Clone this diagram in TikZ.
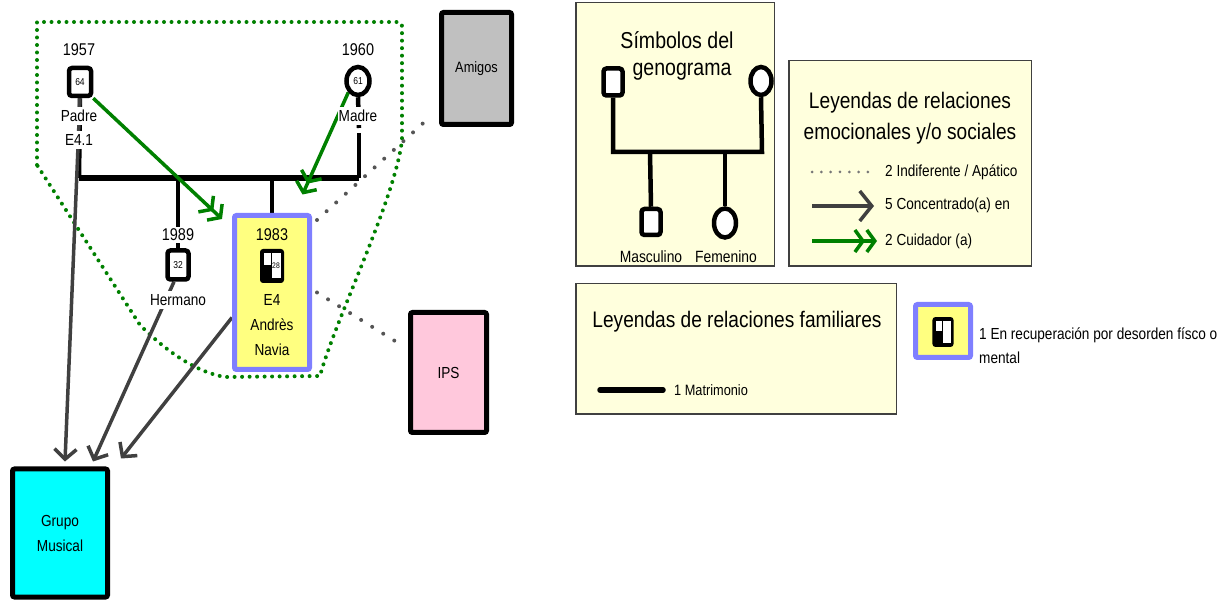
\documentclass[tikz,border=0pt]{standalone}
\usepackage{fontspec}
\setmainfont{Liberation Sans}[FakeStretch=0.85]
\usetikzlibrary{arrows.meta,shapes.geometric}
\pgfdeclarelayer{back}
\pgfdeclarelayer{bg}
\pgfsetlayers{back,bg,main}
\definecolor{gdk}{HTML}{008000}
\definecolor{garr}{HTML}{404040}
\definecolor{gdot}{HTML}{555555}
\definecolor{lgy}{HTML}{FFFFDD}
\definecolor{eyel}{HTML}{FFFF80}
\definecolor{eblu}{HTML}{7F7FFF}
\definecolor{amig}{HTML}{C0C0C0}
\definecolor{ipsc}{HTML}{FFC8DC}
\definecolor{grpc}{HTML}{00FFFF}
\tikzset{
  recsym/.pic={
    \fill[black, rounded corners=3pt] (-12,-17) rectangle (12,17);
    \fill[white] (-8.5,-13) rectangle (-1.5,-1);
    \fill[white] (0,-13) rectangle (9,12);
  },
  lab/.style={fill=white, inner xsep=1pt, inner ysep=3.5pt, font=\fontsize{16}{19}\selectfont},
  yr/.style={fill=white, inner sep=1.5pt, font=\fontsize{17}{20}\selectfont},
  msq/.style={draw, line width=4.5pt, rounded corners=3pt, fill=white, minimum width=22pt, minimum height=28pt, inner sep=0pt, font=\fontsize{10}{11}\selectfont},
  fcirc/.style={ellipse, draw, line width=4.5pt, fill=white, minimum width=23pt, minimum height=28pt, inner sep=0pt, font=\fontsize{10}{11}\selectfont},
  bigbox/.style={draw, line width=5pt, rounded corners=2pt, inner sep=0pt, font=\fontsize{16}{25}\selectfont, align=center},
  ebox/.style={draw=eblu, line width=5pt, fill=eyel, rounded corners=2pt, inner sep=0pt},
  legbox/.style={draw=black!75, line width=1.5pt, fill=lgy, inner sep=0pt},
  sm/.style={inner sep=0pt, font=\fontsize{16}{19}\selectfont},
  kin/.style={line width=4.5pt},
  mar/.style={line width=5.5pt},
  grayarr/.style={draw=garr, line width=3.5pt, -{Straight Barb[length=10pt,width=22pt]}},
  carer/.style={draw=gdk, line width=3.5pt, -{Straight Barb[length=8pt,width=22pt]Straight Barb[length=8pt,width=22pt]}},
  indif/.style={draw=gdot, line width=4pt, line cap=round, dash pattern=on 0pt off 13pt},
  ldots/.style={draw=gdot!80, line width=3pt, line cap=round, dash pattern=on 0pt off 9.33pt},
  bound/.style={draw=gdk, line width=4pt, line cap=round, dash pattern=on 0pt off 7.5pt},
}
\begin{document}
\begin{tikzpicture}[x=1pt,y=-1pt]
\useasboundingbox (0,0) rectangle (1227,601);
% ---------- family ----------
\node[yr] (y57) at (79,50) {1957};
\node[msq] (padre) at (80,82) {64};
\node[lab] (padret) at (79,116) {Padre};
\node[lab] (e41) at (79,140) {E4.1};
\node[yr] (y60) at (358,50) {1960};
\node[fcirc] (madre) at (358,81) {61};
\node[lab] (madret) at (358,116) {Madre};
\coordinate (mL) at (79,178);
\coordinate (mR) at (359,178);
\coordinate (mT1) at (359,128);
\coordinate (mT2) at (359,133);
\coordinate (cH) at (178,178);
\coordinate (cE) at (272,178);
\node[yr] (y89) at (178,235) {1989};
\node[msq, minimum height=29pt, minimum width=21pt] (herm) at (178,265) {32};
\node[lab] (hermt) at (178,300) {Hermano};
\node[ebox, minimum width=75pt, minimum height=154pt] (e4) at (272,292.5) {};
\node[inner sep=0pt, font=\fontsize{17}{20}\selectfont] (y83) at (272,235) {1983};
\pic at (272,266) {recsym};
\node[inner sep=0pt, font=\fontsize{8}{9}\selectfont] (n28) at (276,266) {28};
\node[inner sep=0pt, font=\fontsize{16}{25}\selectfont, align=center] (e4t) at (272,325) {E4\\Andrès\\Navia};
\node[bigbox, fill=amig, minimum width=70pt, minimum height=112pt, font=\fontsize{15}{18}\selectfont] (amigos) at (476.5,68.5) {Amigos};
\node[bigbox, fill=ipsc, minimum width=76pt, minimum height=120pt] (ips) at (448.5,372.5) {IPS};
\node[bigbox, fill=grpc, minimum width=95pt, minimum height=128pt] (grupo) at (60,533) {Grupo\\Musical};
\begin{pgfonlayer}{bg}
\draw[bound] (37,165) -- (37,22) -- (394,22) .. controls (402,22) .. (402,30) -- (402,140)
   .. controls (395,200) and (335,320) .. (320,376) -- (225,377)
   .. controls (195,372) and (165,350) .. (140,325) -- cycle;
\draw[mar] (mL) -- (mR);
\draw[kin] (padre.south) -- (mL);
\draw[kin] (madre.south) -- (mT1);
\draw[kin] (mT2) -- (mR);
\draw[kin] (cH) -- (herm.north);
\draw[kin] (cE) -- (e4.north);
\draw[grayarr] (padre.south) -- ([xshift=5pt,yshift=5pt]grupo.north);
\draw[grayarr] ([xshift=-4pt]herm.south) -- ([xshift=33pt,yshift=5pt]grupo.north);
\draw[grayarr] ([yshift=-25pt]e4.west) -- ([xshift=61pt,yshift=8pt]grupo.north);
\draw[indif] ([xshift=5pt,yshift=-7pt]e4.north east) -- ([xshift=-8pt,yshift=11pt]amigos.south west);
\draw[indif] ([xshift=5pt]e4.east) -- ([xshift=-5pt,yshift=26.5pt]ips.west);
\draw[carer] (padre.south east) -- ([xshift=-10pt,yshift=-6pt]e4.north west);
\draw[carer] (madre.south west) -- ([xshift=-9.5pt,yshift=18.5pt]e4.north east);
\end{pgfonlayer}
% ---------- legend boxes ----------
\begin{pgfonlayer}{back}
\node[legbox, minimum width=198.5pt, minimum height=263.5pt] (lsym) at (675,134.5) {};
\node[legbox, minimum width=242.5pt, minimum height=205.5pt] (lemo) at (910,163.5) {};
\node[legbox, minimum width=320.5pt, minimum height=130.5pt] (lfam) at (736,349) {};
\end{pgfonlayer}
% ---------- legend: symbols ----------
\node[inner sep=0pt, font=\fontsize{23}{28}\selectfont] (lsymt1) at (677,40) {Símbolos del};
\node[inner sep=0pt, font=\fontsize{23}{28}\selectfont] (lsymt2) at (682,72) {genograma};
\node[msq, minimum width=19pt, minimum height=27pt] (lsq) at (613,82) {};
\node[fcirc, minimum width=21pt, minimum height=28pt] (lci) at (761,81) {};
\coordinate (lj1) at (613,152);
\coordinate (lj2) at (762,152);
\coordinate (lc1) at (650,152);
\coordinate (lc2) at (725,152);
\node[msq, minimum width=19pt, minimum height=26pt] (lsq2) at (651,222) {};
\node[fcirc, minimum width=22pt, minimum height=29pt] (lci2) at (725,223) {};
\node[sm, font=\fontsize{16.3}{19}\selectfont] (lmasc) at (651,257) {Masculino};
\node[sm, font=\fontsize{16.3}{19}\selectfont] (lfem) at (726,257) {Femenino};
% ---------- legend: emotional ----------
\node[inner sep=0pt, font=\fontsize{22.5}{31}\selectfont, align=center] (lemot) at (910,118) {Leyendas de relaciones\\emocionales y/o sociales};
\coordinate (d1a) at (812,172);
\coordinate (d1b) at (868,172);
\coordinate (d2a) at (812,206);
\coordinate (d2b) at (874,206);
\coordinate (d3a) at (812,241);
\coordinate (d3b) at (877,241);
\node[sm, anchor=west] (l1) at (885,172) {2 Indiferente / Apático};
\node[sm, anchor=west] (l2) at (885,205) {5 Concentrado(a) en};
\node[sm, anchor=west] (l3) at (885,241) {2 Cuidador (a)};
% ---------- legend: family ----------
\node[inner sep=0pt, font=\fontsize{22.5}{27}\selectfont] (lfamt) at (737,322) {Leyendas de relaciones familiares};
\coordinate (lm1) at (600,390);
\coordinate (lm2) at (663,390);
\node[sm, anchor=west, font=\fontsize{15}{18}\selectfont] (lmat) at (674,390) {1 Matrimonio};
% ---------- legend: recovery ----------
\node[ebox, minimum width=55pt, minimum height=53pt] (lrec) at (943,331) {};
\pic[scale=0.88] at (943,332) {recsym};
\node[sm, anchor=west] (lrect1) at (979,335) {1 En recuperación por desorden físco o};
\node[sm, anchor=west] (lrect2) at (979,358) {mental};
\begin{pgfonlayer}{bg}
\draw[kin] (lsq.south) -- (lj1) -- (lj2) -- (lci.south);
\draw[kin] (lc1) -- (lsq2.north);
\draw[kin] (lc2) -- (lci2.north);
\draw[ldots] (d1a) -- (d1b);
\draw[grayarr, -{Straight Barb[length=12pt,width=30pt]}] (d2a) -- (d2b);
\draw[carer] (d3a) -- (d3b);
\draw[mar, line cap=round] (lm1) -- (lm2);
\end{pgfonlayer}
\end{tikzpicture}
\end{document}
